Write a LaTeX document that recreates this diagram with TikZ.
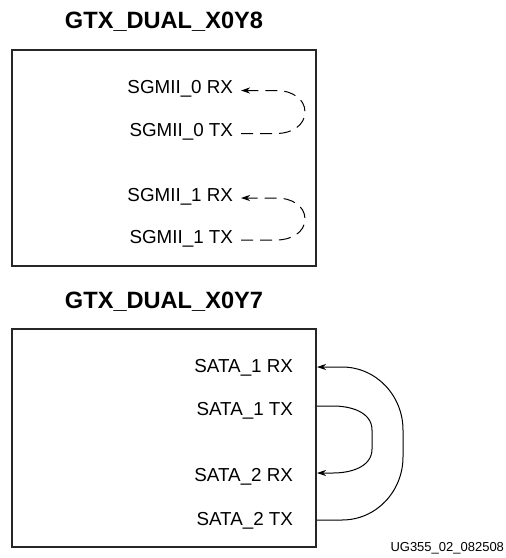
\documentclass[tikz,border=0pt]{standalone}
\usepackage{fontspec}
\setmainfont{Liberation Sans}
\usetikzlibrary{arrows.meta,calc}

\begin{document}
\begin{tikzpicture}[
  x=0.5pt, y=-0.5pt,
  every node/.style={inner sep=0pt, outer sep=0pt},
  title/.style={font=\fontsize{11.8}{14}\selectfont\bfseries, anchor=base},
  dual/.style={rectangle, draw=black!85, line width=1pt,
               minimum width=152pt, minimum height=108pt},
  lane/.style={font=\fontsize{9.4}{11}\selectfont, anchor=base east},
  loopback/.style={-{Stealth[length=4.5pt,width=3pt]}, line width=0.5pt},
  dloop/.style={loopback, dash pattern=on 6pt off 3.5pt},   % suggested loopback
]
\useasboundingbox (0,0) rectangle (506,558);

%% ── upper GTX dual: SGMII lanes ──────────────────────────────────────
\node[title] (t8) at (164,28.3) {GTX\_DUAL\_X0Y8};
\node[dual, minimum height=108pt] (x0y8) at (164,158) {};

\node[lane] (s0rx) at (233,93.5)  {SGMII\_0 RX};
\node[lane] (s0tx) at (233,136.5) {SGMII\_0 TX};
\node[lane] (s1rx) at (233,201)   {SGMII\_1 RX};
\node[lane] (s1tx) at (233,243)   {SGMII\_1 TX};

\foreach \p in {s0rx,s0tx,s1rx,s1tx}
  \coordinate (\p p) at ($(\p.base east)+(8,-3)$);

% dashed loopbacks TX -> RX
\foreach \k in {0,1}
  \draw[dloop] (s\k txp) -- ++(36,0)
    to[out=0,in=-90] ($(s\k txp)!0.5!(s\k rxp)+(64,0)$)
    to[out=90,in=0] ($(s\k rxp)+(36,0)$) -- (s\k rxp);

%% ── lower GTX dual: SATA lanes ───────────────────────────────────────
\node[title] (t7) at (164,308.3) {GTX\_DUAL\_X0Y7};
\node[dual, minimum height=109pt] (x0y7) at (164,438) {};

\node[lane] (a1rx) at (293,372.7) {SATA\_1 RX};
\node[lane] (a1tx) at (293,415)   {SATA\_1 TX};
\node[lane] (a2rx) at (293,481.5) {SATA\_2 RX};
\node[lane] (a2tx) at (293,525)   {SATA\_2 TX};

% pins on the right edge of the dual
\coordinate (a1rxp) at (317,367);
\coordinate (a1txp) at (317,406);
\coordinate (a2rxp) at (317,473);
\coordinate (a2txp) at (317,520);

% crossed loopbacks between the two lanes
\draw[loopback] (a1txp) -- ++(16,0) to[out=0,in=90] ++(39,24) -- ++(0,19)
  to[out=-90,in=0] ($(a2rxp)+(16,0)$) -- (a2rxp);
\draw[loopback] (a2txp) -- ++(25,0) to[out=0,in=-90] ++(61,-63) -- ++(0,-27)
  to[out=90,in=0] ($(a1rxp)+(25,0)$) -- (a1rxp);

\node[font=\fontsize{6.5}{8}\selectfont, anchor=base east] (fig) at (504,551) {UG355\_02\_082508};

\end{tikzpicture}
\end{document}
